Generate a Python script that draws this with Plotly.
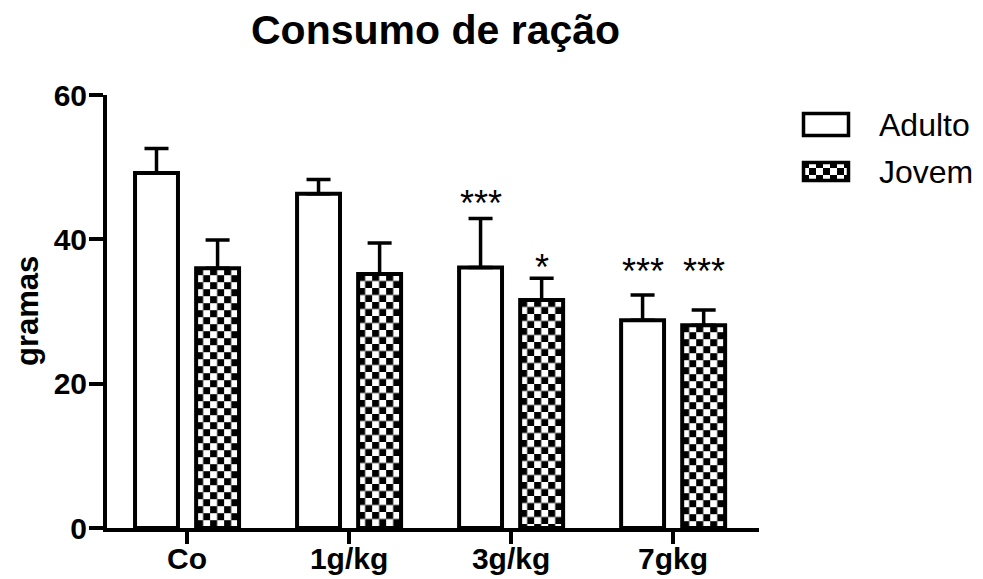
import base64
import plotly.graph_objects as go

categories = ["Co", "1g/kg", "3g/kg", "7gkg"]
adulto = [49.2, 46.3, 36.1, 28.8]
adulto_err = [3.4, 2.0, 6.8, 3.5]
jovem = [36.0, 35.2, 31.6, 28.1]
jovem_err = [3.9, 4.3, 3.0, 2.1]
adulto_sig = ["", "", "***", "***"]
jovem_sig = ["", "", "*", "***"]

# label heights (data units) of significance marks
adulto_sig_y = [0, 0, 45.7, 36.3]
jovem_sig_y = [0, 0, 36.8, 36.3]

# page body has an 8px margin: figure is drawn 8px right/down
W, H = 975, 571
ML, MR, MT, MB = 99, 224, 87, 51
PW, PH = W - ML - MR, H - MT - MB
XR = [-0.494, 3.53]
YR = [0, 60]
BW = 0.265
OFF_A = -0.321
OFF_J = 0.056
FONT = "Liberation Sans, Arial, sans-serif"

def px_x(px):
    return (px - 8 - ML) / PW

def px_y(py):
    return (H - MB - (py - 8)) / PH

def checker_uri(wpx, hpx, s=7):
    svg = (
        f"<svg xmlns='http://www.w3.org/2000/svg' width='{wpx:.1f}' height='{hpx:.1f}' "
        f"viewBox='0 0 {wpx:.1f} {hpx:.1f}' preserveAspectRatio='none'>"
        f"<defs><pattern id='p' width='{2*s}' height='{2*s}' patternUnits='userSpaceOnUse'>"
        f"<rect width='{2*s}' height='{2*s}' fill='white'/>"
        f"<rect width='{s}' height='{s}' fill='black'/>"
        f"<rect x='{s}' y='{s}' width='{s}' height='{s}' fill='black'/></pattern></defs>"
        f"<rect width='{wpx:.1f}' height='{hpx:.1f}' fill='url(#p)'/></svg>"
    )
    return "data:image/svg+xml;base64," + base64.b64encode(svg.encode()).decode()

xs = list(range(len(categories)))
fig = go.Figure()
fig.add_trace(go.Bar(
    x=xs, y=adulto, width=BW, offset=OFF_A, name="Adulto",
    marker=dict(color="white", line=dict(color="black", width=4)),
    error_y=dict(type="data", array=adulto_err, arrayminus=[0]*4, symmetric=False,
                 color="black", thickness=3.5, width=12),
))
fig.add_trace(go.Bar(
    x=xs, y=jovem, width=BW, offset=OFF_J, name="Jovem",
    marker=dict(color="rgba(0,0,0,0)", line=dict(color="black", width=4)),
    error_y=dict(type="data", array=jovem_err, arrayminus=[0]*4, symmetric=False,
                 color="black", thickness=3.5, width=12),
))

ppx = PW / (XR[1] - XR[0])
ppy = PH / (YR[1] - YR[0])
images = []
for i, v in enumerate(jovem):
    images.append(dict(
        source=checker_uri(BW * ppx, v * ppy), xref="x", yref="y",
        x=i + OFF_J, y=v, sizex=BW, sizey=v, sizing="stretch",
        xanchor="left", yanchor="top", layer="below",
    ))
images.append(dict(
    source=checker_uri(48, 21), xref="paper", yref="paper",
    x=px_x(802), y=px_y(161), sizex=px_x(850) - px_x(802), sizey=px_y(161) - px_y(182),
    sizing="stretch", xanchor="left", yanchor="top", layer="above",
))

annotations = []
for i in xs:
    if adulto_sig[i]:
        annotations.append(dict(x=i + OFF_A + BW / 2, y=adulto_sig_y[i], xref="x", yref="y",
                                text=adulto_sig[i], showarrow=False, yanchor="bottom", yshift=-28,
                                font=dict(family=FONT, size=36, color="black")))
    if jovem_sig[i]:
        annotations.append(dict(x=i + OFF_J + BW / 2, y=jovem_sig_y[i], xref="x", yref="y",
                                text=jovem_sig[i], showarrow=False, yanchor="bottom", yshift=-28,
                                font=dict(family=FONT, size=36, color="black")))

annotations += [
    dict(x=px_x(435), y=px_y(30), xref="paper", yref="paper", text="<b>Consumo de ração</b>",
         showarrow=False, xanchor="center", yanchor="middle", font=dict(family=FONT, size=41, color="black")),
    dict(x=px_x(27), y=px_y(311), xref="paper", yref="paper", text="<b>gramas</b>", textangle=-90,
         showarrow=False, xanchor="center", yanchor="middle", font=dict(family=FONT, size=31, color="black")),
    dict(x=px_x(877), y=px_y(125), xref="paper", yref="paper", text="Adulto",
         showarrow=False, xanchor="left", yanchor="middle", font=dict(family=FONT, size=32, color="black")),
    dict(x=px_x(877), y=px_y(172), xref="paper", yref="paper", text="Jovem",
         showarrow=False, xanchor="left", yanchor="middle", font=dict(family=FONT, size=32, color="black")),
]

shapes = [
    dict(type="rect", xref="paper", yref="paper", x0=px_x(803.5), x1=px_x(848.5),
         y0=px_y(113.5), y1=px_y(135.5), line=dict(color="black", width=3.5), fillcolor="white"),
    dict(type="rect", xref="paper", yref="paper", x0=px_x(803.5), x1=px_x(848.5),
         y0=px_y(162.5), y1=px_y(180.5), line=dict(color="black", width=3.5)),
]

fig.update_layout(
    width=W, height=H, autosize=False,
    margin=dict(l=ML, r=MR, t=MT, b=MB, pad=0, autoexpand=False),
    paper_bgcolor="white", plot_bgcolor="white", barmode="overlay", showlegend=False,
    images=images, annotations=annotations, shapes=shapes,
    font=dict(family=FONT, color="black"),
    xaxis=dict(range=XR, tickvals=xs, ticktext=[f"<b>{c}</b>" for c in categories],
               showline=True, linecolor="black", linewidth=4, ticks="outside", ticklen=12,
               tickwidth=4, tickcolor="black", showgrid=False, zeroline=False, automargin=False,
               ticklabelstandoff=-11,
               tickfont=dict(family=FONT, size=30, color="black")),
    yaxis=dict(range=YR, tickvals=[0, 20, 40, 60], ticktext=["<b>0</b>", "<b>20</b>", "<b>40</b>", "<b>60</b>"],
               showline=True, linecolor="black", linewidth=4, ticks="outside", ticklen=14,
               tickwidth=4, tickcolor="black", showgrid=False, zeroline=False, automargin=False,
               ticklabelstandoff=-4,
               tickfont=dict(family=FONT, size=30, color="black")),
)

fig.write_html("out.html")
